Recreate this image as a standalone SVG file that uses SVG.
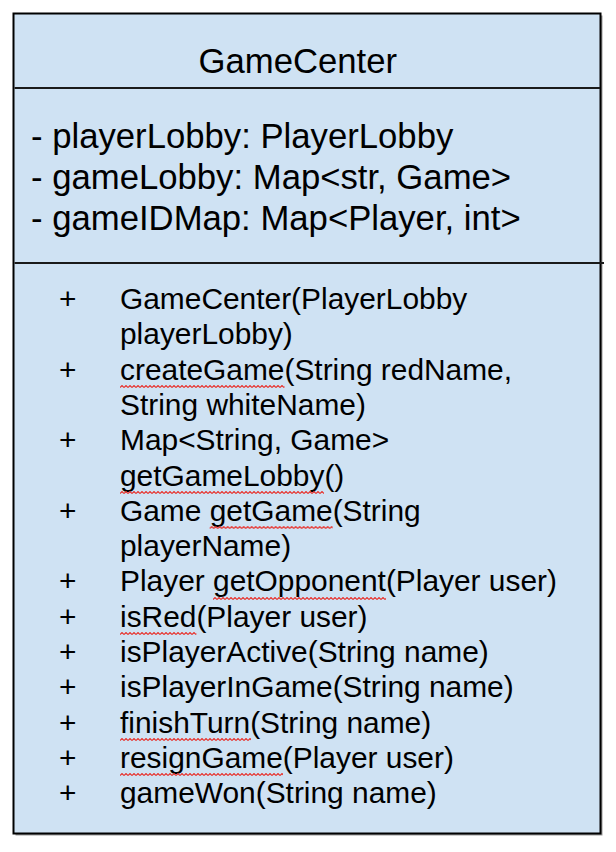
<svg xmlns="http://www.w3.org/2000/svg" width="616" height="852" viewBox="0 0 616 852">
  <style>
    text { font-family: "Liberation Sans", Arial, sans-serif; fill: #000; }
    .title { font-size: 34.7px; }
    .attr { font-size: 34.7px; }
    .meth { font-size: 29.9px; }
    .sep { stroke: #1a1a1a; stroke-width: 2; }
  </style>
  <defs>
    <pattern id="squiggle" x="0" y="0" width="4" height="3" patternUnits="userSpaceOnUse">
      <path d="M0 2.5 L2 0.5 L4 2.5" fill="none" stroke="#e8302a" stroke-width="1.1"/>
    </pattern>
  </defs>
  <rect width="616" height="852" fill="#ffffff"/>
  <g id="GameCenter">
    <rect x="15.5" y="15.5" width="587" height="820" fill="#9a9a9a"/>
    <rect x="13.5" y="13.5" width="587" height="820" fill="#cfe2f3" stroke="#000" stroke-width="2"/>
    <line class="sep" x1="14.5" y1="88" x2="600" y2="88"/>
    <line class="sep" x1="14.5" y1="263" x2="604" y2="263"/>
    <text class="title" x="198.5" y="73">GameCenter</text>
    <text class="attr" x="31" y="147.5">- playerLobby: PlayerLobby</text>
    <text class="attr" x="31" y="188.5">- gameLobby: Map&lt;str, Game&gt;</text>
    <text class="attr" x="31" y="229.5">- gameIDMap: Map&lt;Player, int&gt;</text>
    <g class="meth">
      <text class="meth" x="59" y="309">+</text>
      <text class="meth" x="120" y="309">GameCenter(PlayerLobby</text>
      <text class="meth" x="120" y="344.3">playerLobby)</text>
      <text class="meth" x="59" y="379.6">+</text>
      <text class="meth" x="120" y="379.6">createGame(String redName,</text>
      <text class="meth" x="120" y="414.9">String whiteName)</text>
      <text class="meth" x="59" y="450.2">+</text>
      <text class="meth" x="120" y="450.2">Map&lt;String, Game&gt;</text>
      <text class="meth" x="120" y="485.5">getGameLobby()</text>
      <text class="meth" x="59" y="520.8">+</text>
      <text class="meth" x="120" y="520.8">Game getGame(String</text>
      <text class="meth" x="120" y="556.1">playerName)</text>
      <text class="meth" x="59" y="591.4">+</text>
      <text class="meth" x="120" y="591.4">Player getOpponent(Player user)</text>
      <text class="meth" x="59" y="626.7">+</text>
      <text class="meth" x="120" y="626.7">isRed(Player user)</text>
      <text class="meth" x="59" y="662">+</text>
      <text class="meth" x="120" y="662">isPlayerActive(String name)</text>
      <text class="meth" x="59" y="697.3">+</text>
      <text class="meth" x="120" y="697.3">isPlayerInGame(String name)</text>
      <text class="meth" x="59" y="732.6">+</text>
      <text class="meth" x="120" y="732.6">finishTurn(String name)</text>
      <text class="meth" x="59" y="768">+</text>
      <text class="meth" x="120" y="768">resignGame(Player user)</text>
      <text class="meth" x="59" y="803.3">+</text>
      <text class="meth" x="120" y="803.3">gameWon(String name)</text>
    </g>
    <g id="spellcheck">
      <g transform="translate(120,385)"><rect width="164.5" height="3" fill="url(#squiggle)"/></g>
      <g transform="translate(120,491)"><rect width="204" height="3" fill="url(#squiggle)"/></g>
      <g transform="translate(209.7,526)"><rect width="123" height="3" fill="url(#squiggle)"/></g>
      <g transform="translate(213,597)"><rect width="173" height="3" fill="url(#squiggle)"/></g>
      <g transform="translate(120,632)"><rect width="76.4" height="3" fill="url(#squiggle)"/></g>
      <g transform="translate(120,738)"><rect width="131" height="3" fill="url(#squiggle)"/></g>
      <g transform="translate(120,773)"><rect width="163" height="3" fill="url(#squiggle)"/></g>
    </g>
  </g>
  <g id="connectors"/>
</svg>
